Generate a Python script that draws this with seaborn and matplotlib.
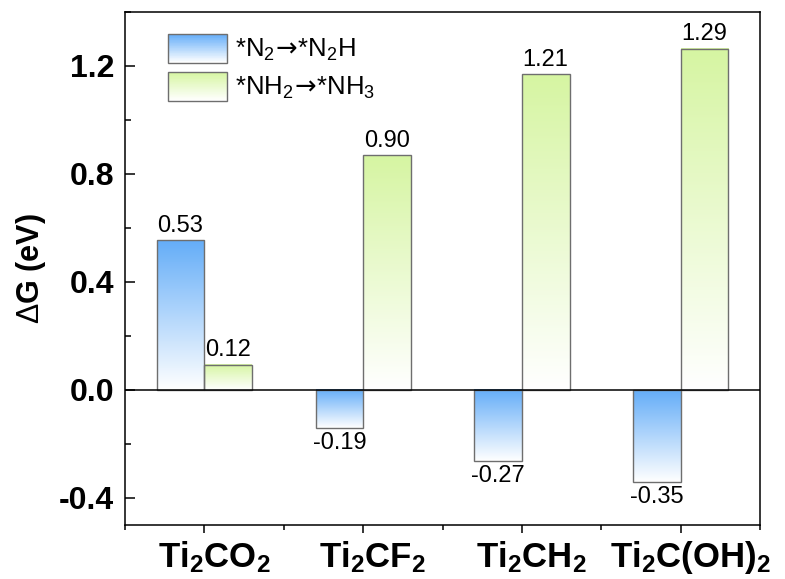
import numpy as np
import pandas as pd
import matplotlib
matplotlib.use("Agg")
import matplotlib.pyplot as plt
import seaborn as sns
from matplotlib.patches import Rectangle, Patch
from matplotlib.legend_handler import HandlerBase
from matplotlib.colors import to_rgb
from matplotlib.ticker import MultipleLocator, FormatStrFormatter
from matplotlib.transforms import ScaledTranslation

# ---------------- data ----------------
categories = ["Ti2CO2", "Ti2CF2", "Ti2CH2", "Ti2C(OH)2"]
tick_labels = [r"Ti$_2$CO$_2$", r"Ti$_2$CF$_2$", r"Ti$_2$CH$_2$", r"Ti$_2$C(OH)$_2$"]
series_names = [r"*N$_2\!\mathsf{\rightarrow}\!$*N$_2$H",
                r"*NH$_2\!\mathsf{\rightarrow}\!$*NH$_3$"]
n2_values = [0.554, -0.141, -0.264, -0.339]
nh2_values = [0.094, 0.868, 1.168, 1.263]
n2_labels = ["0.53", "-0.19", "-0.27", "-0.35"]
nh2_labels = ["0.12", "0.90", "1.21", "1.29"]

# ---------------- style ----------------
sns.set_style("ticks")
plt.rcParams["font.family"] = ["Liberation Sans", "DejaVu Sans"]
plt.rcParams["mathtext.fontset"] = "custom"
plt.rcParams["mathtext.rm"] = "Liberation Sans"
plt.rcParams["mathtext.bf"] = "Liberation Sans:bold"
plt.rcParams["mathtext.sf"] = "DejaVu Sans"
plt.rcParams["mathtext.default"] = "regular"
plt.rcParams["axes.unicode_minus"] = False
for k in ["text.color", "axes.labelcolor", "xtick.color", "ytick.color",
          "axes.edgecolor"]:
    plt.rcParams[k] = "black"

blue_top = "#64adf8"
green_top = "#d6f5a2"
bottom_white = "#ffffff"
edge_gray = "#6e6e6e"
series_tops = [blue_top, green_top]

df = pd.DataFrame({
    "category": categories * 2,
    "series": [series_names[0]] * 4 + [series_names[1]] * 4,
    "value": n2_values + nh2_values,
})

fig = plt.figure(figsize=(7.85, 5.79), dpi=100)
ax = fig.add_axes([125 / 785, 1 - 525 / 579, 635 / 785, (525 - 11.7) / 579])

sns.barplot(data=df, x="category", y="value", hue="series",
            palette=series_tops, saturation=1, width=0.6, edgecolor=edge_gray,
            linewidth=1.0, legend=False, ax=ax, zorder=3)

XLIM = (-0.5, 3.5)
YLIM = (-0.5, 1.4)


def gradient(top, n=256):
    t = np.array(to_rgb(top))
    w = np.array(to_rgb(bottom_white))
    f = np.linspace(0, 1, n)[:, None]
    return (t * (1 - f) + w * f)[:, None, :]


n_cat = len(categories)
bars = list(ax.patches)[: 2 * n_cat]

# gradient fills for bars (first n_cat bars = series 0, next = series 1)
for i, p in enumerate(bars):
    top = series_tops[i // n_cat]
    x0, w = p.get_x(), p.get_width()
    y0, h = p.get_y(), p.get_height()
    ymin, ymax = min(y0, y0 + h), max(y0, y0 + h)
    ax.imshow(gradient(top), extent=[x0, x0 + w, ymin, ymax], aspect="auto",
              origin="upper", zorder=2.5, interpolation="bilinear")
    p.set_facecolor("none")

ax.set_xlim(*XLIM)
ax.set_ylim(*YLIM)

# bar value labels
all_labels = n2_labels + nh2_labels
all_values = n2_values + nh2_values
for i, p in enumerate(bars):
    lab, val = all_labels[i], all_values[i]
    xc = p.get_x() + p.get_width() / 2
    if val >= 0:
        ax.annotate(lab, (xc, val), xytext=(0, 2.5), textcoords="offset points",
                    ha="center", va="bottom", fontsize=17, zorder=5, color="black")
    else:
        ax.annotate(lab, (xc, val), xytext=(0, -3), textcoords="offset points",
                    ha="center", va="top", fontsize=17, zorder=5, color="black")

ax.axhline(0, color="black", lw=1.1, zorder=4)

# axes styling
for s in ax.spines.values():
    s.set_visible(True)
    s.set_linewidth(1.1)
    s.set_color("black")

ax.yaxis.set_major_locator(MultipleLocator(0.4))
ax.yaxis.set_minor_locator(MultipleLocator(0.2))
ax.yaxis.set_major_formatter(FormatStrFormatter("%.1f"))
ax.set_xticks(range(n_cat))
ax.set_xticklabels(tick_labels)
ax.set_xticks([-0.5, 0.5, 1.5, 2.5, 3.5], minor=True)

ax.tick_params(axis="y", which="major", direction="in", length=7, width=1.1,
               labelsize=23, pad=8, color="black", labelcolor="black")
ax.tick_params(axis="y", which="minor", direction="in", length=4, width=1.1,
               color="black")
ax.tick_params(axis="x", which="major", direction="out", length=6, width=1.1,
               labelsize=25, pad=4, color="black", labelcolor="black")
ax.tick_params(axis="x", which="minor", direction="out", length=3.5, width=1.1,
               color="black")
for t in ax.get_yticklabels() + ax.get_xticklabels():
    t.set_fontweight("bold")
shift = ScaledTranslation(7 / 72, 0, fig.dpi_scale_trans)
for t in ax.get_xticklabels():
    t.set_transform(t.get_transform() + shift)

ax.set_xlabel("")
ax.set_ylabel(r"$\mathrm{\Delta}$G (eV)", fontsize=22, fontweight="bold",
              labelpad=8, color="black")


# legend with gradient handles
class GradHandler(HandlerBase):
    def __init__(self, top, n=40):
        super().__init__()
        self.top = top
        self.n = n

    def create_artists(self, legend, orig_handle, xdescent, ydescent, width,
                       height, fontsize, trans):
        arts = []
        g = gradient(self.top, self.n)[:, 0, :]
        for i in range(self.n):
            y = -ydescent + height * (self.n - 1 - i) / self.n
            r = Rectangle((-xdescent, y), width, height / self.n * 1.05,
                          facecolor=g[i], edgecolor="none", transform=trans)
            arts.append(r)
        arts.append(Rectangle((-xdescent, -ydescent), width, height,
                              facecolor="none", edgecolor=edge_gray, lw=1.0,
                              transform=trans))
        return arts


h1 = Patch(facecolor=blue_top)
h2 = Patch(facecolor=green_top)
leg = ax.legend(handles=[h1, h2], labels=series_names,
                handler_map={h1: GradHandler(blue_top), h2: GradHandler(green_top)},
                loc="upper left", bbox_to_anchor=((168 - 125) / 635, (525 - 34) / 513.3),
                frameon=False, fontsize=18.5, handlelength=2.3, handleheight=1.35,
                labelspacing=0.35, handletextpad=0.3, borderpad=0, borderaxespad=0,
                labelcolor="black")

fig.savefig("out.png", dpi=100)
